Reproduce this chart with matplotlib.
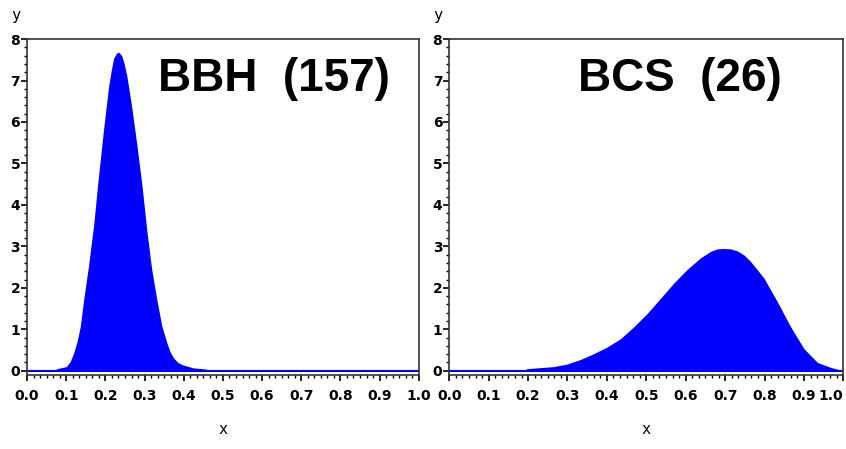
import numpy as np
import matplotlib
matplotlib.use("Agg")
import matplotlib.pyplot as plt
from matplotlib.ticker import AutoMinorLocator

# BBH (157) density
bbh_x = [0.0, 0.070, 0.076, 0.100, 0.110, 0.119, 0.128, 0.136, 0.144, 0.157, 0.170,
         0.182, 0.195, 0.208, 0.215, 0.221, 0.229, 0.235, 0.242, 0.248, 0.255,
         0.267, 0.280, 0.293, 0.306, 0.318, 0.331, 0.344, 0.357, 0.365, 0.374,
         0.385, 0.395, 0.424, 0.458, 0.462, 1.0]
bbh_y = [0.0, 0.0, 0.05, 0.10, 0.22, 0.43, 0.72, 1.08, 1.68, 2.54, 3.52,
         4.66, 5.80, 6.85, 7.25, 7.54, 7.67, 7.68, 7.59, 7.40, 7.10,
         6.37, 5.47, 4.50, 3.36, 2.46, 1.73, 1.08, 0.67, 0.46, 0.31,
         0.20, 0.15, 0.07, 0.04, 0.0, 0.0]

# BCS (26) density
bcs_x = [0.0, 0.19, 0.197, 0.264, 0.298, 0.332, 0.366, 0.400, 0.434, 0.468, 0.502,
         0.536, 0.569, 0.603, 0.637, 0.663, 0.680, 0.697, 0.714, 0.731, 0.748,
         0.764, 0.798, 0.832, 0.866, 0.900, 0.934, 0.968, 1.0]
bcs_y = [0.0, 0.0, 0.05, 0.10, 0.16, 0.27, 0.41, 0.57, 0.77, 1.06, 1.38,
         1.75, 2.11, 2.44, 2.72, 2.88, 2.94, 2.95, 2.94, 2.89, 2.79,
         2.64, 2.24, 1.67, 1.06, 0.53, 0.20, 0.08, 0.0]

panels = [("BBH  (157)", bbh_x, bbh_y, 0.63), ("BCS  (26)", bcs_x, bcs_y, 0.586)]
x_ticks = [0.0, 0.1, 0.2, 0.3, 0.4, 0.5, 0.6, 0.7, 0.8, 0.9, 1.0]
y_ticks = [0, 1, 2, 3, 4, 5, 6, 7, 8]

blue = "#0000ff"
tick_font = dict(family="DejaVu Sans", weight="bold", size=10)

fig = plt.figure(figsize=(8.46, 4.49), dpi=100)
positions = [[0.032, 0.165, 0.463, 0.748], [0.531, 0.165, 0.466, 0.748]]

for i, (pos, (title, xs, ys, tx)) in enumerate(zip(positions, panels)):
    ax = fig.add_axes(pos)
    ax.fill_between(xs, 0, ys, color=blue, linewidth=0)
    ax.plot([0, 1], [0, 0], color=blue, lw=1.5)
    ax.set_xlim(0, 1)
    ax.set_ylim(-0.1, 8.0)
    ax.set_xticks(x_ticks)
    labels = ax.set_xticklabels(["%.1f" % v for v in x_ticks], **tick_font)
    if i == 1:
        labels[-1].set_horizontalalignment("right")
    ax.set_yticks(y_ticks)
    ax.set_yticklabels([str(v) for v in y_ticks], **tick_font)
    ax.xaxis.set_minor_locator(AutoMinorLocator(6))
    ax.yaxis.set_minor_locator(AutoMinorLocator(5))
    ax.tick_params(which="major", length=4, width=1.2, direction="out", pad=6)
    ax.tick_params(axis="y", which="major", pad=1)
    ax.tick_params(which="minor", length=2, width=1, direction="out")
    for s in ax.spines.values():
        s.set_color("#333333")
        s.set_linewidth(1.2)
    ax.text(tx, 0.88, title, transform=ax.transAxes, ha="center", va="center",
            family="Liberation Sans", weight="bold", fontsize=33)
    ax.set_xlabel("x", family="DejaVu Sans Mono", fontsize=11, labelpad=14)
    ax.text(-0.03, 1.07, "y", transform=ax.transAxes, ha="center", va="center",
            family="DejaVu Sans Mono", fontsize=11)

fig.savefig("out.png", dpi=100)
